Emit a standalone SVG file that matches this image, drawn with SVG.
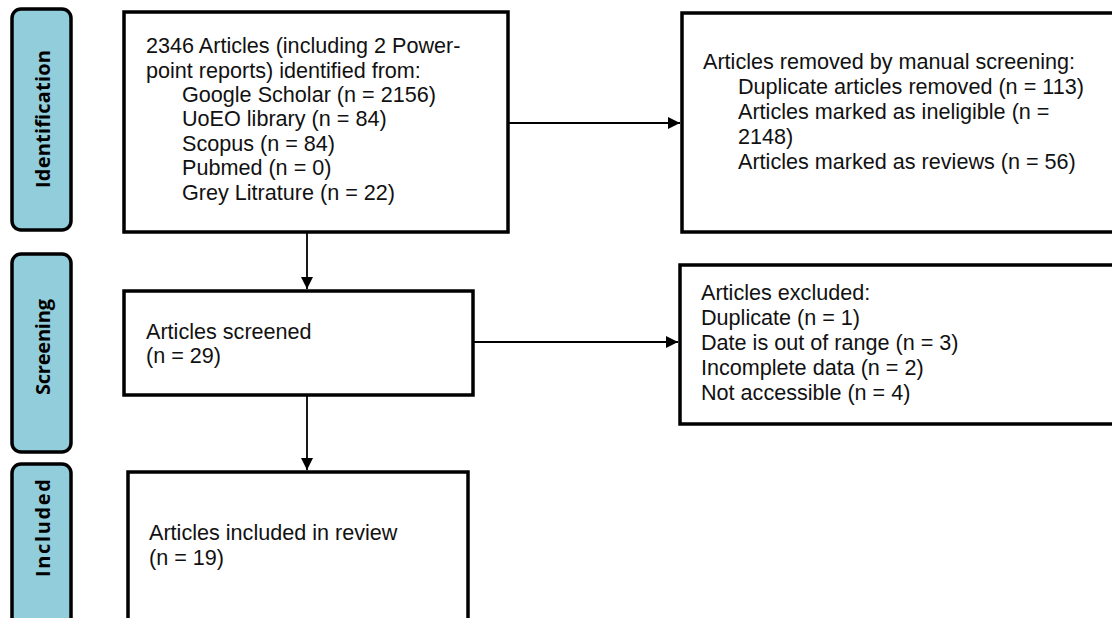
<svg xmlns="http://www.w3.org/2000/svg" width="1112" height="618" viewBox="0 0 1112 618">
<defs>
<style>
.stage{fill:#92CDDC;stroke:#000;stroke-width:3.5}
.box{fill:#fff;stroke:#000;stroke-width:3.5}
.lbl{font-family:"Open Sans","Liberation Sans",sans-serif;font-weight:bold;font-size:20px;fill:#000}
.t{font-family:"Liberation Sans",Arial,sans-serif;font-size:21.6px;fill:#111}
.conn{stroke:#000;stroke-width:1.8;fill:none}
</style>
<marker id="ah" viewBox="0 0 12 12" refX="12" refY="6" markerWidth="12" markerHeight="12" markerUnits="userSpaceOnUse" orient="auto">
<path d="M0,0 L12,6 L0,12 z" fill="#000"/>
</marker>
</defs>
<rect width="1112" height="618" fill="#fff"/>
<g id="stage-identification">
<rect class="stage" x="12" y="9" width="59" height="221" rx="9"/>
<text class="lbl" transform="translate(50,119) rotate(-90)" text-anchor="middle" textLength="138" lengthAdjust="spacing">Identification</text>
</g>
<g id="stage-screening">
<rect class="stage" x="12" y="254" width="59" height="198" rx="9"/>
<text class="lbl" transform="translate(50,347) rotate(-90)" text-anchor="middle" textLength="96" lengthAdjust="spacing">Screening</text>
</g>
<g id="stage-included">
<rect class="stage" x="12" y="464" width="59" height="170" rx="9"/>
<text class="lbl" transform="translate(50,528) rotate(-90)" text-anchor="middle" textLength="98" lengthAdjust="spacing">Included</text>
</g>
<g id="node-identified">
<rect class="box" x="124" y="12" width="384" height="220"/>
<text class="t" x="146" y="53">2346 Articles (including 2 Power-</text>
<text class="t" x="146" y="77.5">point reports) identified from:</text>
<text class="t" x="182" y="101.5">Google Scholar (n = 2156)</text>
<text class="t" x="182" y="126">UoEO library (n = 84)</text>
<text class="t" x="182" y="150.5">Scopus (n = 84)</text>
<text class="t" x="182" y="175">Pubmed (n = 0)</text>
<text class="t" x="182" y="199.5">Grey Litrature (n = 22)</text>
</g>
<g id="node-removed">
<rect class="box" x="682" y="13" width="450" height="219"/>
<text class="t" x="703" y="69">Articles removed by manual screening:</text>
<text class="t" x="738" y="94">Duplicate articles removed (n = 113)</text>
<text class="t" x="738" y="119">Articles marked as ineligible (n =</text>
<text class="t" x="738" y="144">2148)</text>
<text class="t" x="738" y="169">Articles marked as reviews (n = 56)</text>
</g>
<g id="node-screened">
<rect class="box" x="124" y="291" width="349" height="104"/>
<text class="t" x="146" y="338.5">Articles screened</text>
<text class="t" x="146" y="362.5">(n = 29)</text>
</g>
<g id="node-excluded">
<rect class="box" x="680" y="265" width="450" height="159"/>
<text class="t" x="701" y="300">Articles excluded:</text>
<text class="t" x="701" y="325">Duplicate (n = 1)</text>
<text class="t" x="701" y="350">Date is out of range (n = 3)</text>
<text class="t" x="701" y="375">Incomplete data (n = 2)</text>
<text class="t" x="701" y="400">Not accessible (n = 4)</text>
</g>
<g id="node-included">
<rect class="box" x="128" y="472" width="340" height="150"/>
<text class="t" x="149" y="540">Articles included in review</text>
<text class="t" x="149" y="565">(n = 19)</text>
</g>
<g id="connectors">
<line class="conn" x1="508" y1="123" x2="680" y2="123" marker-end="url(#ah)"/>
<line class="conn" x1="307" y1="232" x2="307" y2="289" marker-end="url(#ah)"/>
<line class="conn" x1="473" y1="342" x2="678" y2="342" marker-end="url(#ah)"/>
<line class="conn" x1="307" y1="395" x2="307" y2="470" marker-end="url(#ah)"/>
</g>
</svg>
